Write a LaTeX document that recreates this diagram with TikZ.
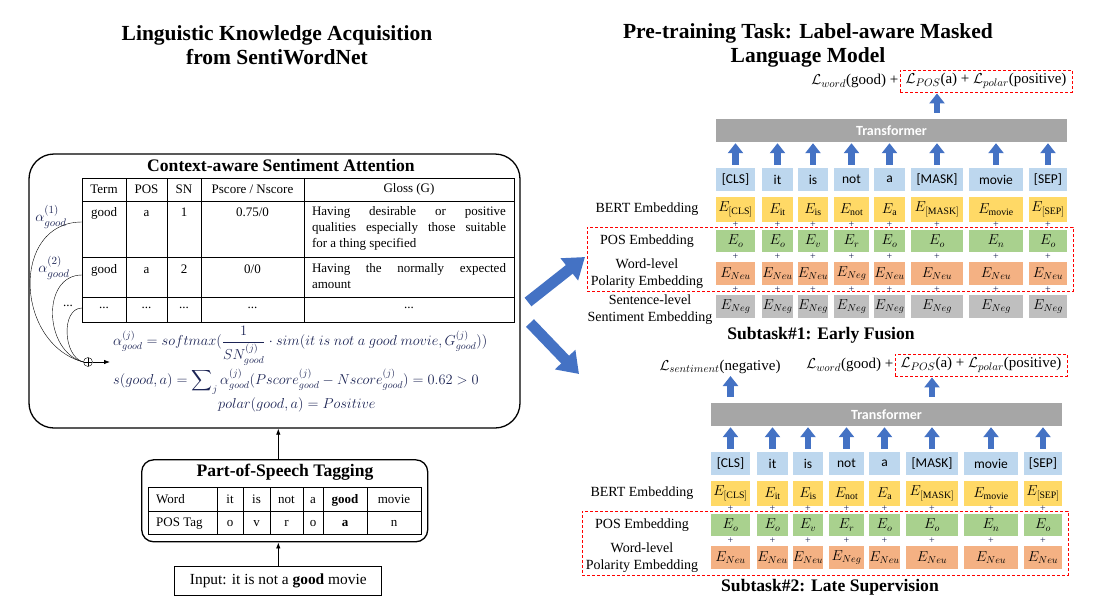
\documentclass[tikz,border=0pt]{standalone}
\usepackage{amsmath, amssymb}
\usepackage{fontspec}
\setmainfont{Liberation Serif}
\setsansfont{Carlito}
\usetikzlibrary{arrows.meta}
\usetikzlibrary{shapes}
\usetikzlibrary{positioning}
\definecolor{tokBlue}{RGB}{189,215,238}
\definecolor{bertYellow}{RGB}{255,217,102}
\definecolor{posGreen}{RGB}{169,209,142}
\definecolor{polOrange}{RGB}{244,177,131}
\definecolor{sentGray}{RGB}{191,191,191}
\definecolor{transGray}{RGB}{166,166,166}
\definecolor{arrowBlue}{RGB}{68,114,196}
\definecolor{mathNavy}{RGB}{28,36,84}
\definecolor{dashRed}{RGB}{255,0,0}

\begin{document}
\begin{tikzpicture}[x=1pt, y=-1pt, font=\fontsize{14}{17}\selectfont]
\tikzstyle{titleStyle}=[font=\fontsize{21.5}{24}\selectfont\bfseries, align=center]
\tikzstyle{headStyle}=[font=\fontsize{17.6}{20}\selectfont\bfseries]
\tikzstyle{cellStyle}=[font=\fontsize{13}{16}\selectfont, inner sep=0pt]
\tikzstyle{roundBox}=[draw, line width=1.3pt, rounded corners=25pt]
\tikzstyle{thinArrow}=[-{Latex[length=6pt,width=4.5pt]}, line width=0.8pt]
\tikzstyle{blockArrow}=[draw=arrowBlue, line width=6.5pt, -{Triangle[length=10pt,width=15pt]}]
\tikzstyle{bigArrow}=[draw=arrowBlue, line width=11pt, -{Triangle[length=20pt,width=27pt]}]
\tikzstyle{embStyle}=[inner sep=0pt, minimum height=23pt, font=\fontsize{14}{16}\selectfont]
\tikzstyle{tokStyle}=[embStyle, fill=tokBlue, font=\sffamily\fontsize{13.5}{16}\selectfont]
\tikzstyle{bertStyle}=[embStyle, fill=bertYellow, minimum height=25pt]
\tikzstyle{posStyle}=[embStyle, fill=posGreen, minimum height=22pt]
\tikzstyle{polStyle}=[embStyle, fill=polOrange]
\tikzstyle{sentStyle}=[embStyle, fill=sentGray]
\tikzstyle{plusStyle}=[inner sep=0pt, font=\fontsize{10}{10}\selectfont, text=mathNavy]
\tikzstyle{rowLabel}=[align=center, inner sep=0pt]
\tikzstyle{redDash}=[draw=dashRed, line width=0.9pt, dash pattern=on 3pt off 2pt]
\tikzstyle{lossStyle}=[font=\fontsize{15}{17}\selectfont, inner sep=1pt]
\tikzstyle{transStyle}=[fill=transGray, minimum width=351pt, minimum height=23pt, text=white, font=\sffamily\bfseries\fontsize{14}{16}\selectfont]
\tikzstyle{eqStyle}=[text=mathNavy, font=\fontsize{14.5}{18}\selectfont, inner sep=0pt, anchor=west]
\path[use as bounding box] (0,0) rectangle (1106,608);

\node[titleStyle] (leftTitle) at (277,45) {Linguistic Knowledge Acquisition\\from SentiWordNet};
\node[titleStyle] (rightTitle) at (808,45) {Pre-training Task: Label-aware Masked\\Language Model};

\node[roundBox, minimum width=491pt, minimum height=274pt] (csa) at (274.5,291) {};
\node[headStyle] (csaTitle) at (281,165) {Context-aware Sentiment Attention};
\draw (82,178) rectangle (514,322);
\foreach \y in {201,257,297} \draw (82,\y) -- (514,\y);
\foreach \x in {126,167,201,304} \draw (\x,178) -- (\x,322);
\foreach \x/\txt [count=\i] in {104/Term,146.5/POS,184/SN,252.5/{Pscore / Nscore},409/Gloss (G)}
  \node[cellStyle] (hd\i) at (\x,189.5) {\txt};
\foreach \x/\txt [count=\i] in {104/good,146.5/a,184/1,252.5/{0.75/0}}
  \node[cellStyle, anchor=base] (ra\i) at (\x,216) {\txt};
\node[cellStyle, anchor=north, text width=194pt, align=justify] (ra5) at (409,206) {Having desirable or positive\linebreak qualities especially those suitable\linebreak for a thing specified};
\foreach \x/\txt [count=\i] in {104/good,146.5/a,184/2,252.5/{0/0}}
  \node[cellStyle, anchor=base] (rb\i) at (\x,273) {\txt};
\node[cellStyle, anchor=north, text width=194pt, align=justify] (rb5) at (409,263) {Having the normally expected\linebreak amount};
\foreach \x [count=\i] in {104,146.5,184,252.5,409}
  \node[cellStyle] (rc\i) at (\x,308) {...};

\node[text=mathNavy, font=\fontsize{15}{17}\selectfont, inner sep=0pt] (al1) at (51,217) {$\alpha^{(1)}_{good}$};
\node[text=mathNavy, font=\fontsize{15}{17}\selectfont, inner sep=0pt] (al2) at (54,268) {$\alpha^{(2)}_{good}$};
\node[cellStyle] (al3) at (68,306) {...};
\coordinate (in1) at (82,222);
\coordinate (in2) at (82,275);
\coordinate (in3) at (82,308);
\node[circle, draw, minimum size=9pt, inner sep=0pt, path picture={\draw (path picture bounding box.north) -- (path picture bounding box.south) (path picture bounding box.west) -- (path picture bounding box.east);}] (oplus) at (88,362) {};
\draw (in1) to[out=180, in=165, looseness=1.3] (oplus.west);
\draw (in2) to[out=180, in=165, looseness=1.2] (oplus.west);
\draw (in3) to[out=180, in=165, looseness=1.0] (oplus.west);
\coordinate (eqIn) at (110,362);
\draw[thinArrow] (oplus.east) -- (eqIn);
\node[eqStyle] (eq1) at (113,346) {$\alpha^{(j)}_{good} = softmax(\dfrac{1}{SN^{(j)}_{good}}\cdot sim(it\ is\ not\ a\ good\ movie, G^{(j)}_{good}))$};
\node[eqStyle] (eq2) at (113,382) {$s(good,a) = \displaystyle\sum\nolimits_j \alpha^{(j)}_{good}(Pscore^{(j)}_{good} - Nscore^{(j)}_{good}) = 0.62 > 0$};
\node[eqStyle] (eq3) at (218,405) {$polar(good,a) = Positive$};

\node[roundBox, rounded corners=12pt, minimum width=286pt, minimum height=82pt] (tagBox) at (284.7,500.8) {};
\node[headStyle] (tagTitle) at (285,472) {Part-of-Speech Tagging};
\draw (148,487) rectangle (421,534);
\draw (148,511) -- (421,511);
\foreach \x in {217,243,270,303,323,367} \draw (\x,487) -- (\x,534);
\node[cellStyle, anchor=base west] (wd0) at (156,503.5) {Word};
\node[cellStyle, anchor=base west] (tg0) at (156,526.5) {POS Tag};
\foreach \x/\w/\g [count=\i] in {230/it/o,256.5/is/v,286.5/not/r,313/a/o,345/\textbf{good}/\textbf{a},394/movie/n} {
  \node[cellStyle, anchor=base] (wd\i) at (\x,503.5) {\w};
  \node[cellStyle, anchor=base] (tg\i) at (\x,526.5) {\g};
}
\node[draw, line width=1pt, minimum width=207pt, minimum height=29pt, font=\fontsize{15.4}{18}\selectfont] (inp) at (278.3,580.5) {Input: it is not a \textbf{good} movie};
\draw[thinArrow] (inp.north) -- (inp.north |- tagBox.south);
\draw[thinArrow] (tagBox.north -| inp.north) -- (csa.south -| inp.north);

\coordinate (d1s) at (528,302);
\coordinate (d1e) at (585,257);
\coordinate (d2s) at (530,323);
\coordinate (d2e) at (579,374);
\draw[bigArrow] (d1s) -- (d1e);
\draw[bigArrow] (d2s) -- (d2e);

\foreach \s/\dx/\dy in {A/0/0,B/-5/284} {
\begin{scope}[shift={(\dx,\dy)}]
\node[transStyle] (tr\s) at (891.5,130.5) {Transformer};
\node[redDash, lossStyle, minimum width=172pt, minimum height=22pt] (lp\s) at (986,81) {$\mathcal{L}_{POS}$(a) + $\mathcal{L}_{polar}$(positive)};
\node[lossStyle, left=0pt of lp\s] (lw\s) {$\mathcal{L}_{word}$(good) +};
\node[rowLabel] (bl\s) at (647,209.5) {BERT Embedding};
\node[rowLabel] (pl\s) at (647,241) {POS Embedding};
\node[rowLabel] (wl\s) at (647,274) {Word-level\\Polarity Embedding};
\node[redDash, minimum width=486pt, minimum height=64pt] (rd\s) at (830,259) {};
\foreach \cx/\bw/\tok/\bsub/\psub/\lsub [count=\i] in {735.5/39/[CLS]/\mathrm{[CLS]}/o/Neu,777.5/31/it/\mathrm{it}/o/Neu,813/30/is/\mathrm{is}/v/Neu,851.5/35/not/\mathrm{not}/r/Neg,889.5/31/a/\mathrm{a}/o/Neu,937/52/[MASK]/\mathrm{[MASK]}/o/Neu,996/54/movie/\mathrm{movie}/n/Neu,1048/38/[SEP]/\mathrm{[SEP]}/o/Neu} {
  \node[tokStyle, minimum width=\bw pt] (tok\s\i) at (\cx,179.5) {\tok};
  \node[bertStyle, minimum width=\bw pt] (bert\s\i) at (\cx,209.5) {$E_{\bsub}$};
  \node[plusStyle] (pa\s\i) at (\cx,225) {+};
  \node[posStyle, minimum width=\bw pt] (pos\s\i) at (\cx,241) {$E_{\psub}$};
  \node[plusStyle] (pb\s\i) at (\cx,257) {+};
  \node[polStyle, minimum width=\bw pt] (pol\s\i) at (\cx,273.5) {$E_{\lsub}$};
  \draw[blockArrow, shorten <=3pt, shorten >=1pt] (tok\s\i.north) -- (tok\s\i.north |- tr\s.south);
}
\draw[blockArrow, shorten <=6pt, shorten >=1pt] (tr\s.north -| tok\s6) -- (lp\s.south -| tok\s6);
\end{scope}
}

\foreach \cx/\bw [count=\i] in {735.5/39,777.5/31,813/30,851.5/35,889.5/31,937/52,996/54,1048/38} {
  \node[plusStyle] (pcA\i) at (\cx,290) {+};
  \node[sentStyle, minimum width=\bw pt] (sentA\i) at (\cx,306.5) {$E_{Neg}$};
}
\node[rowLabel] (slA) at (650,310) {Sentence-level\\Sentiment Embedding};
\node[headStyle] (subOne) at (821,335) {Subtask\#1: Early Fusion};

\node[lossStyle] (lsent) at (720,367) {$\mathcal{L}_{sentiment}$(negative)};
\draw[blockArrow, shorten <=6pt, shorten >=1pt] (trB.north -| tokB1) -- (lsent.south -| tokB1);
\node[headStyle] (subTwo) at (830,587) {Subtask\#2: Late Supervision};
\end{tikzpicture}
\end{document}
